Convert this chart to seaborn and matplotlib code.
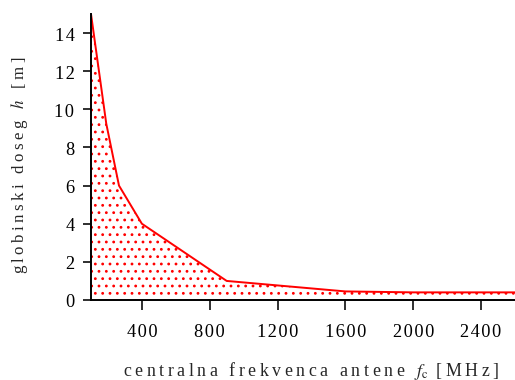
import matplotlib
matplotlib.use("Agg")
import matplotlib.pyplot as plt
import seaborn as sns
import numpy as np

# antenna centre frequency [MHz] and penetration depth [m]
freq_mhz = [100, 190, 265, 400, 900, 1600, 2000, 2600]
depth_m = [15.0, 9.25, 6.0, 4.0, 1.0, 0.45, 0.4, 0.4]

x_ticks = [400, 800, 1200, 1600, 2000, 2400]
y_ticks = [0, 2, 4, 6, 8, 10, 12, 14]

HAIR = "\u200a"
THIN = "\u2009"


def spaced(text, gap=HAIR):
    """Loosen the tracking of a label by putting narrow spaces between letters."""
    return gap.join(text)


sns.set_style("ticks")
plt.rcParams["font.family"] = ["Liberation Serif", "DejaVu Serif"]
plt.rcParams["mathtext.fontset"] = "stix"
plt.rcParams["hatch.color"] = "red"
plt.rcParams["hatch.linewidth"] = 1.1

DPI = 88
fig = plt.figure(figsize=(515 / DPI, 381 / DPI), dpi=DPI)
ax = fig.add_axes([91 / 515, 80 / 381, 424 / 515, 286 / 381])

# dotted area under the curve
ax.fill_between(freq_mhz, depth_m, 0, facecolor="none", edgecolor="red",
                hatch="..", linewidth=0)
sns.lineplot(x=freq_mhz, y=depth_m, color="red", linewidth=1.6, ax=ax)

ax.set_xlim(100, 2600)
ax.set_ylim(0, 15)
ax.set_xticks(x_ticks)
ax.set_xticklabels([spaced(str(t)) for t in x_ticks])
ax.set_yticks(y_ticks)
ax.set_yticklabels([spaced(str(t)) for t in y_ticks])

ax.tick_params(axis="x", direction="out", length=8, width=1.3, pad=11,
               labelsize=15, colors="black")
ax.tick_params(axis="y", direction="out", length=6.5, width=1.3, pad=7,
               labelsize=15, colors="black")

for side in ("top", "right"):
    ax.spines[side].set_visible(False)
for side in ("left", "bottom"):
    ax.spines[side].set_linewidth(1.6)
    ax.spines[side].set_color("black")

ax.set_xlabel(spaced("centralna frekvenca antene ", THIN) + r" $f_\mathrm{c}$"
              + THIN + " " + spaced("[MHz]", THIN), fontsize=14.6)
ax.xaxis.set_label_coords(0.519, -0.205)
ax.set_ylabel(spaced("globinski doseg ", THIN) + r" $h$ " + THIN + " "
              + spaced("[m]", THIN), fontsize=13.8)
ax.yaxis.set_label_coords(-0.145, 0.475)

fig.savefig("out.png", dpi=DPI)
